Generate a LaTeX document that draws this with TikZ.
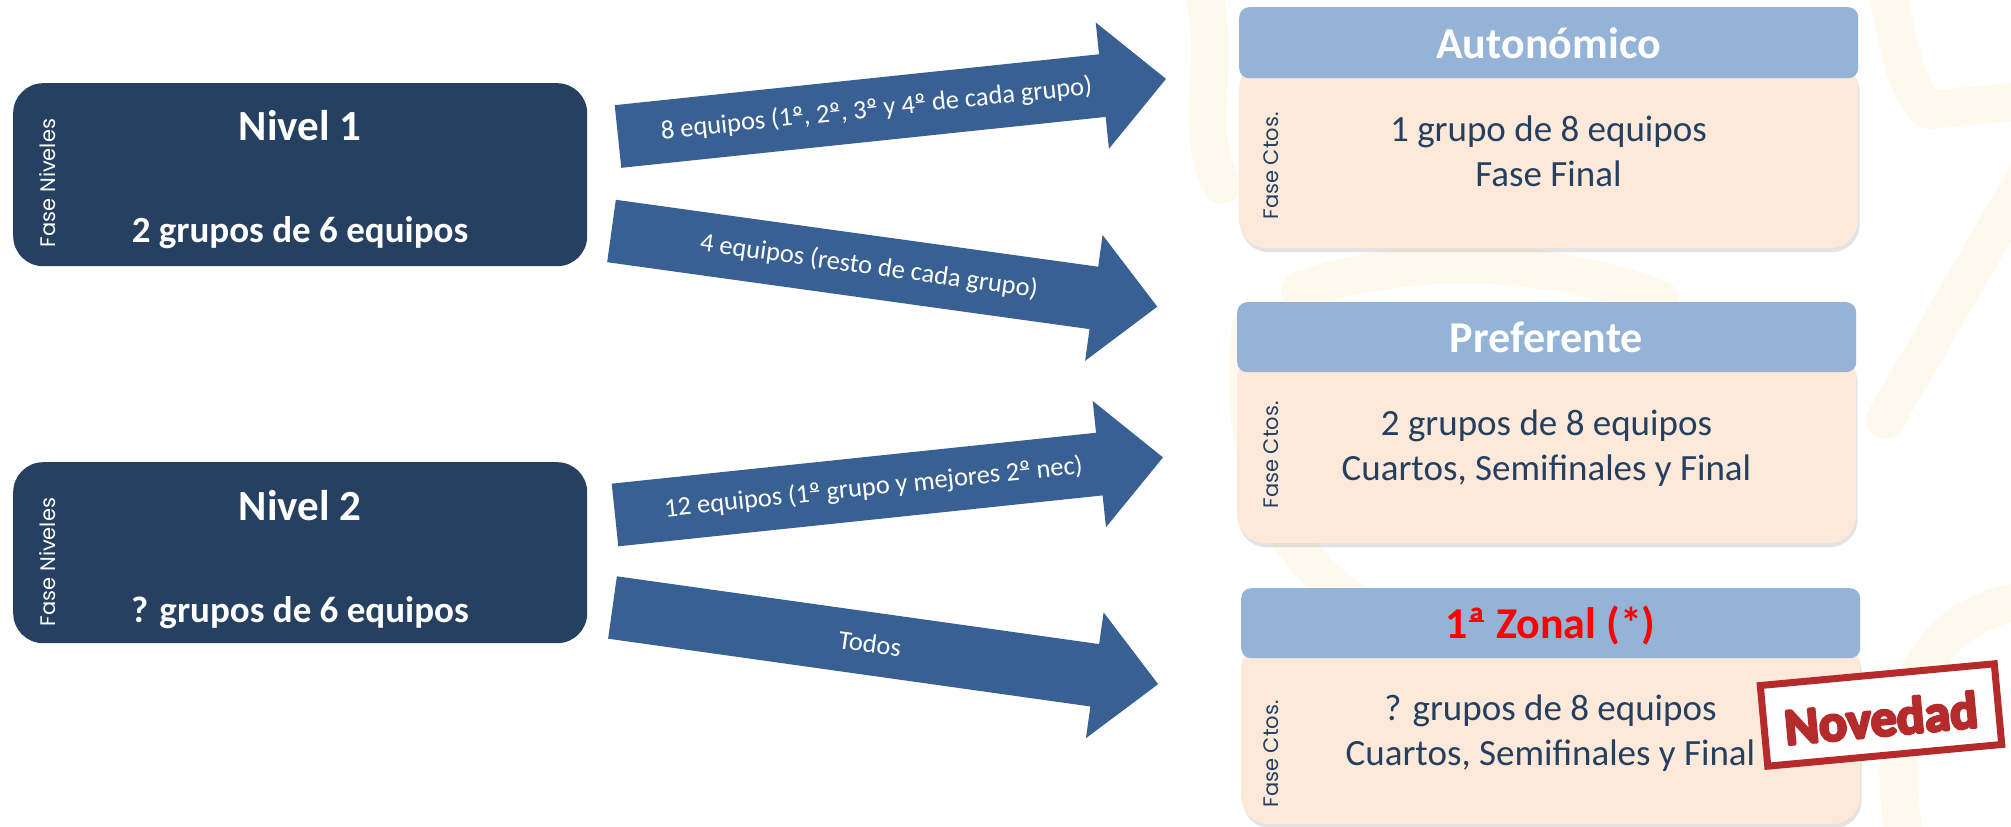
\documentclass[tikz,border=0pt]{standalone}
\usepackage{fontspec}
\setmainfont{Carlito}
\newfontfamily\sidefont{Poppins}
\usetikzlibrary{shadows}

\definecolor{navy}{HTML}{254061}
\definecolor{arrowblue}{HTML}{386092}
\definecolor{hdrblue}{HTML}{95B3D7}
\definecolor{bodypeach}{HTML}{FDE9D9}
\definecolor{txtnavy}{HTML}{243F60}
\definecolor{stampred}{HTML}{B52B2B}
\definecolor{cream}{HTML}{FEF9EC}

% ordinal indicator with its underline, as Calibri draws it
\newcommand\uord[1]{\ooalign{#1\cr\hidewidth\raisebox{.36em}{\rule{.34em}{.05em}}\hidewidth\cr}}
% heavier glyphs: fill and stroke the text outline
\newcommand\heavytext[1]{\special{pdf:literal direct 2 Tr 2.8 w 1 j}#1\special{pdf:literal direct 0 Tr}}

\begin{document}
\begin{tikzpicture}[x=1pt,y=-1pt,
  levelbox/.style={fill=navy, draw=none, rounded corners=30pt, inner sep=0pt, anchor=north west},
  lvltitle/.style={text=white, font=\bfseries\fontsize{43}{50}\selectfont, inner sep=0pt, anchor=base},
  lvlsub/.style={text=white, font=\bfseries\fontsize{37}{44}\selectfont, inner sep=0pt, anchor=base},
  sidelabel/.style={font=\sidefont\fontsize{21}{26}\selectfont, rotate=90, inner sep=0pt},
  hdrbox/.style={fill=hdrblue, rounded corners=10pt, inner sep=0pt, anchor=north west, minimum width=619pt, minimum height=71pt},
  bodybox/.style={fill=bodypeach, rounded corners=28pt, inner sep=0pt, anchor=north west, minimum width=619pt,
    drop shadow={shadow xshift=1.5pt, shadow yshift=-4pt, opacity=0.22}},
  hdrtext/.style={text=white, font=\bfseries\fontsize{44}{50}\selectfont, inner sep=0pt, anchor=base},
  bodytext/.style={text=txtnavy, font=\fontsize{37}{44}\selectfont, inner sep=0pt, anchor=base},
  bigarrow/.style={fill=arrowblue},
  arrowlabel/.style={text=white, font=\fontsize{26.5}{30}\selectfont, inner sep=0pt, transform shape},
  stampbox/.style={draw=stampred, line width=7pt, fill=white, minimum width=235pt, minimum height=81pt, rotate=5.3, inner sep=0pt},
  stamptext/.style={text=stampred, font=\bfseries\fontsize{52}{55}\selectfont, rotate=5.3, inner sep=0pt},
  wm/.style={draw=cream, line width=38pt, line cap=round, line join=round}
]
\useasboundingbox (0,0) rectangle (2011,827);
\fill[white] (0,0) rectangle (2011,827);

% faint watermark
\draw[wm] (1200,-20) .. controls (1225,60) and (1190,120) .. (1222,185);
\draw[wm] (1250,330) .. controls (1230,520) and (1330,640) .. (1520,660);
\draw[wm] (1300,290) .. controls (1420,250) and (1560,260) .. (1660,300);
\draw[wm] (2030,170) -- (1885,420);
\draw[wm] (1885,-20) .. controls (1900,50) and (1905,90) .. (1930,110) -- (2030,100);
\draw[wm] (2030,600) .. controls (1930,610) and (1880,700) .. (1905,840);

% level boxes
\node[levelbox, minimum width=574pt, minimum height=183pt] (n1) at (13,83) {};
\node[lvltitle] (n1t) at (300,140) {Nivel 1};
\node[lvlsub] (n1s) at (300,242) {2 grupos de 6 equipos};
\node[sidelabel, text=white] (n1f) at (48,183) {Fase Niveles};

\node[levelbox, minimum width=574pt, minimum height=181pt] (n2) at (13,462) {};
\node[lvltitle] (n2t) at (300,520) {Nivel 2};
\node[lvlsub] (n2s) at (300,622) {? grupos de 6 equipos};
\node[sidelabel, text=white] (n2f) at (48,562) {Fase Niveles};

% arrows
\begin{scope}[shift={(618,136.5)}, rotate=6]
  \fill[bigarrow] (0,-31.5) -- (487,-31.5) -- (487,-63.5) -- (551,0) -- (487,63.5) -- (487,31.5) -- (0,31.5) -- cycle;
  \node[arrowlabel] (l1) at (260,0) {8 equipos (1\uord{º}, 2\uord{º}, 3\uord{º} y 4\uord{º} de cada grupo)};
\end{scope}
\begin{scope}[shift={(611.5,231)}, rotate=-7.9]
  \fill[bigarrow] (0,-31.5) -- (487,-31.5) -- (487,-63.5) -- (551,0) -- (487,63.5) -- (487,31.5) -- (0,31.5) -- cycle;
  \node[arrowlabel] (l2) at (260,0) {4 equipos (resto de cada grupo)};
\end{scope}
\begin{scope}[shift={(615,515)}, rotate=6]
  \fill[bigarrow] (0,-31.5) -- (487,-31.5) -- (487,-63.5) -- (551,0) -- (487,63.5) -- (487,31.5) -- (0,31.5) -- cycle;
  \node[arrowlabel] (l3) at (260,0) {12 equipos (1\uord{º} grupo y mejores 2\uord{º} nec)};
\end{scope}
\begin{scope}[shift={(612.5,607.5)}, rotate=-8]
  \fill[bigarrow] (0,-31.5) -- (487,-31.5) -- (487,-63.5) -- (551,0) -- (487,63.5) -- (487,31.5) -- (0,31.5) -- cycle;
  \node[arrowlabel] (l4) at (260,0) {Todos};
\end{scope}

% Autonomico
\node[bodybox, minimum height=188pt] (ab) at (1239,60) {};
\node[hdrbox] (ah) at (1239,7) {};
\node[hdrtext] (aht) at (1548.5,58) {Autonómico};
\node[bodytext] (a1) at (1548.5,141) {1 grupo de 8 equipos};
\node[bodytext] (a2) at (1548.5,186) {Fase Final};
\node[sidelabel, text=txtnavy] (af) at (1271,166) {Fase Ctos.};

% Preferente
\node[bodybox, minimum height=192pt] (pb) at (1237,351) {};
\node[hdrbox, minimum height=70pt] (ph) at (1237,302) {};
\node[hdrtext] (pht) at (1546.5,352) {Preferente};
\node[bodytext] (p1) at (1546.5,435) {2 grupos de 8 equipos};
\node[bodytext] (p2) at (1546.5,480) {Cuartos, Semifinales y Final};
\node[sidelabel, text=txtnavy] (pf) at (1271,455) {Fase Ctos.};

% 1a Zonal
\node[bodybox, minimum height=184pt] (zb) at (1241,640) {};
\node[hdrbox, minimum height=70pt] (zh) at (1241,588) {};
\node[hdrtext, text=red] (zht) at (1550.5,638) {1\uord{ª} Zonal (*)};
\node[bodytext] (z1) at (1550.5,720) {? grupos de 8 equipos};
\node[bodytext] (z2) at (1550.5,765) {Cuartos, Semifinales y Final};
\node[sidelabel, text=txtnavy] (zf) at (1271,754) {Fase Ctos.};

% stamp
\node[stampbox] (nov) at (1881,715) {};
\node[stamptext] (novt) at (1881,718) {\heavytext{Novedad}};
\end{tikzpicture}
\end{document}
